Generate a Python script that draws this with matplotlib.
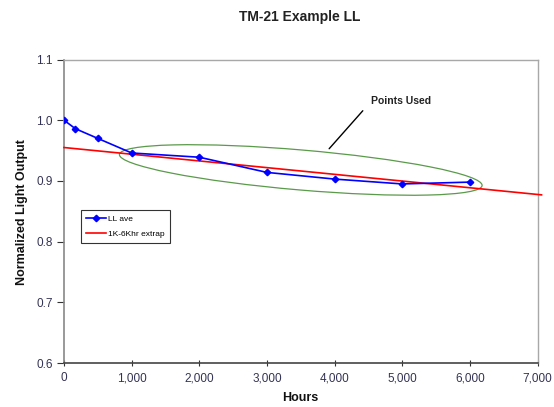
import matplotlib
matplotlib.use("Agg")
import matplotlib.pyplot as plt
import matplotlib.transforms as mtransforms
from matplotlib.patches import Ellipse
from matplotlib.ticker import FuncFormatter

plt.rcParams['font.family'] = ['Liberation Sans', 'DejaVu Sans']

# measured LL average data
hours = [0, 168, 500, 1000, 2000, 3000, 4000, 5000, 6000]
ll_ave = [1.000, 0.986, 0.970, 0.946, 0.939, 0.914, 0.903, 0.895, 0.898]

# 1K-6Khr extrapolation line (end points)
extrap_hours = [0, 7060]
extrap_values = [0.955, 0.877]

x_ticks = [0, 1000, 2000, 3000, 4000, 5000, 6000, 7000]
y_ticks = [0.6, 0.7, 0.8, 0.9, 1.0, 1.1]


def main():
    fig = plt.figure(figsize=(5.54, 4.07), dpi=100)
    ax = fig.add_axes([64 / 554, 1 - 363 / 407, (537.5 - 64) / 554, (363 - 59.5) / 407])

    ax.plot(extrap_hours, extrap_values, color='#ff0000', linewidth=1.2,
            label='1K-6Khr extrap', clip_on=False, zorder=3)
    ax.plot(hours, ll_ave, color='#0000ff', linewidth=1.2, marker='D',
            markersize=3.3, label='LL ave', zorder=4)

    ax.set_xlim(0, 7000)
    ax.set_ylim(0.6, 1.1)
    ax.set_xticks(x_ticks)
    ax.set_yticks(y_ticks)
    ax.xaxis.set_major_formatter(FuncFormatter(lambda v, p: f"{int(v):,}"))
    ax.yaxis.set_major_formatter(FuncFormatter(lambda v, p: f"{v:.1f}"))
    ax.tick_params(axis='both', labelsize=8.5, colors='#333333', labelcolor='#333355')
    ax.tick_params(axis='x', direction='inout', length=5, pad=4)
    ax.tick_params(axis='y', direction='out', length=5, pad=3)

    for side in ['top', 'right']:
        ax.spines[side].set_color('#a8a8a8')
        ax.spines[side].set_linewidth(1.0)
    ax.spines['left'].set_color('#888888')
    ax.spines['bottom'].set_color('#444444')
    ax.spines['left'].set_linewidth(1.2)
    ax.spines['bottom'].set_linewidth(1.2)

    # "points used" ellipse, sized in inches, centred on a data point
    trans = fig.dpi_scale_trans + mtransforms.ScaledTranslation(3500, 0.918, ax.transData)
    ell = Ellipse((0, 0), width=3.64, height=0.40, angle=-4.9, transform=trans,
                  fill=False, edgecolor='#5a9a4a', linewidth=0.9, zorder=2)
    ax.add_patch(ell)

    ax.annotate('Points Used', xy=(3920, 0.953), xytext=(4540, 1.031),
                fontsize=7.5, fontweight='bold', color='#222222', va='center', ha='left',
                arrowprops=dict(arrowstyle='-', color='black', linewidth=1.0,
                                relpos=(0, 0.5), shrinkA=6, shrinkB=0))

    leg = ax.legend(handles=ax.get_lines()[::-1], loc='upper left',
                    bbox_to_anchor=(80.5 / 554, 1 - 210 / 407), bbox_transform=fig.transFigure,
                    fontsize=6, frameon=True, fancybox=False, edgecolor='black',
                    handlelength=2.4, handletextpad=0.3, borderpad=0.6, labelspacing=0.9,
                    borderaxespad=0)
    leg.get_frame().set_linewidth(0.8)

    fig.text(300 / 554, 1 - 17 / 407, 'TM-21 Example LL', ha='center', va='center',
             fontsize=10, fontweight='bold', color='#222222')
    fig.text(22 / 554, 1 - 212 / 407, 'Normalized Light Output', ha='center', va='center',
             rotation=90, fontsize=9, fontweight='bold', color='#111111')
    fig.text(300 / 554, 1 - 398 / 407, 'Hours', ha='center', va='center',
             fontsize=9, fontweight='bold', color='#111111')

    fig.savefig('out.png', dpi=100)


if __name__ == "__main__":
    main()
